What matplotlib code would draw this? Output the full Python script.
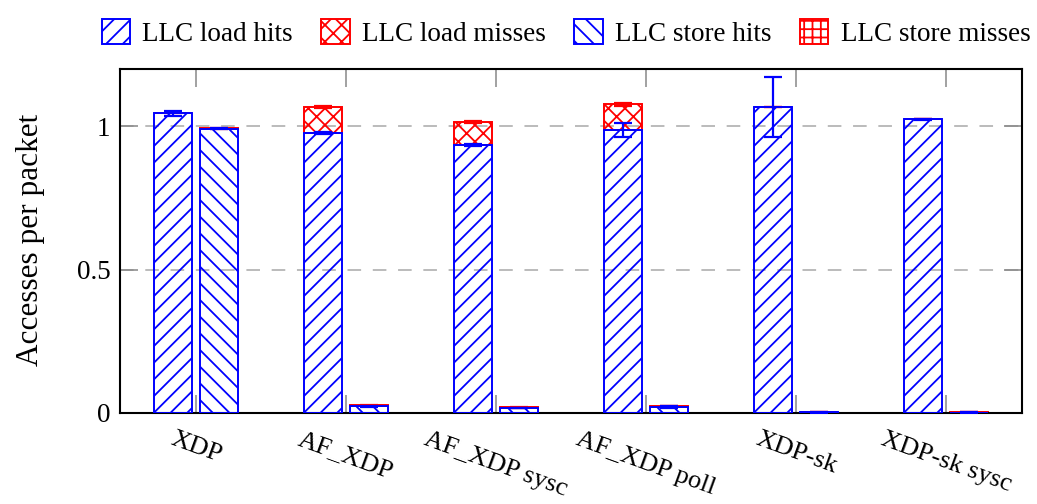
import matplotlib
matplotlib.use("Agg")
import matplotlib.pyplot as plt
import numpy as np

groups = ['XDP', 'AF_XDP', 'AF_XDP sysc', 'AF_XDP poll', 'XDP-sk', 'XDP-sk sysc']
load_hits = [1.045, 0.977, 0.936, 0.986, 1.067, 1.024]
load_misses = [0.003, 0.090, 0.079, 0.091, 0.001, 0.001]
load_hits_err = [0.009, 0.003, 0.003, 0.024, 0.105, 0.002]
load_misses_err = [0.002, 0.003, 0.003, 0.006, 0.0, 0.0]
store_hits = [0.992, 0.024, 0.017, 0.021, 0.002, 0.001]
store_misses = [0.001, 0.003, 0.003, 0.003, 0.001, 0.001]
store_hits_err = [0.003, 0.002, 0.001, 0.002, 0.001, 0.001]
store_misses_err = [0.001, 0.001, 0.001, 0.001, 0.0, 0.0]
legend_labels = ['LLC load hits', 'LLC load misses', 'LLC store hits', 'LLC store misses']
yticks = [0, 0.5, 1]
ytick_labels = ['0', '0.5', '1']

plt.rcParams['font.family'] = ['Liberation Serif', 'DejaVu Serif']
plt.rcParams['hatch.linewidth'] = 1.3

fig = plt.figure(figsize=(10.37, 5.04), dpi=100)
ax = fig.add_axes([120/1037, 1-413/504, 902/1037, 344/504])

x = np.arange(len(groups))
w = 0.25
off = 0.153
blue = '#0000ff'
red = '#ff0000'
lw = 1.4

lh = np.array(load_hits)
lm = np.array(load_misses)
sh = np.array(store_hits)
sm = np.array(store_misses)

b2 = ax.bar(x - off, lm, w, bottom=lh, facecolor='none', edgecolor=red, hatch='xx', linewidth=lw, zorder=2.5, label=legend_labels[1])
b1 = ax.bar(x - off, lh, w, facecolor='none', edgecolor=blue, hatch='//', linewidth=lw, zorder=3, label=legend_labels[0])
b4 = ax.bar(x + off, sm, w, bottom=sh, facecolor='none', edgecolor=red, hatch='++', linewidth=lw, zorder=2.5, label=legend_labels[3])
b3 = ax.bar(x + off, sh, w, facecolor='none', edgecolor=blue, hatch='\\\\', linewidth=lw, zorder=3, label=legend_labels[2])

ekw = dict(fmt='none', capsize=6.5, elinewidth=1.6, capthick=1.6)
ax.errorbar(x - off, lh, yerr=load_hits_err, ecolor=blue, zorder=4, **ekw)
ax.errorbar(x - off, lh + lm, yerr=load_misses_err, ecolor=red, zorder=2.8, **ekw)
ax.errorbar(x + off, sh, yerr=store_hits_err, ecolor=blue, zorder=4, **ekw)
ax.errorbar(x + off, sh + sm, yerr=store_misses_err, ecolor=red, zorder=2.8, **ekw)

ax.set_xlim(-0.5067, 5.5067)
ax.set_ylim(0, 1.2)
ax.set_yticks(yticks)
ax.set_yticklabels(ytick_labels, fontsize=19.5)
ax.set_xticks(x)
ax.set_xticklabels(groups, fontsize=19, rotation=-20, ha='center', va='top')
ax.tick_params(axis='both', direction='in', length=13, width=1.1, color='#888888',
               top=True, right=True)
ax.tick_params(axis='y', pad=7)
ax.tick_params(axis='x', pad=11)
for s in ax.spines.values():
    s.set_linewidth(1.5)
ax.yaxis.grid(True, color='#bbbbbb', linestyle=(0, (7, 6)), linewidth=1.4, zorder=0)
ax.set_axisbelow(True)

ax.set_ylabel('Accesses per packet', fontsize=22.5)
ax.yaxis.set_label_coords(-0.083, 0.503)

fig.legend(handles=[b1, b2, b3, b4], labels=legend_labels, loc='center', ncol=4,
           bbox_to_anchor=(566/1037, 1-33/504), frameon=False, fontsize=19.5,
           handlelength=1.05, handleheight=1.05, handletextpad=0.45, columnspacing=1.05,
           borderpad=0.2)

fig.savefig('out.png', dpi=100)
